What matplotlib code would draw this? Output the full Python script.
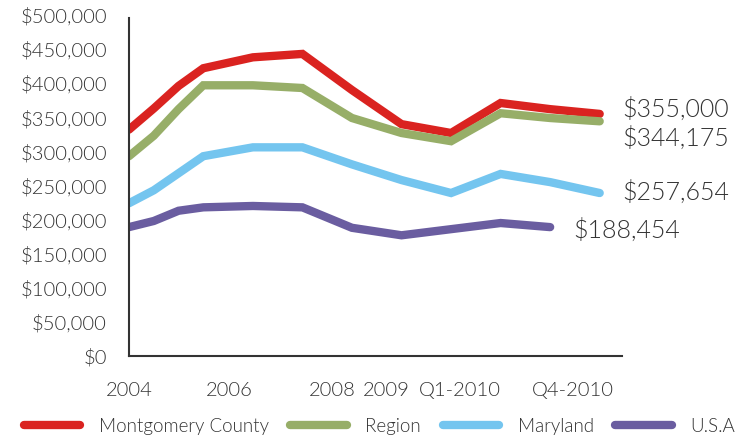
import numpy as np
import matplotlib.pyplot as plt
from matplotlib.ticker import FuncFormatter

# Position of each reading along the time axis
periods = [0, 1, 2, 3, 5, 7, 9, 11, 13, 15, 17, 19]

montgomery = [332000, 363000, 396000, 422000, 438000, 443000, 390000, 340000, 327000, 371000, 362000, 355000]
region = [293000, 323000, 362000, 397000, 397000, 393000, 349000, 327000, 315000, 356000, 349000, 344175]
maryland = [224000, 243000, 268000, 293000, 306000, 306000, 281000, 258000, 239000, 267000, 255000, 239000]
usa = [189000, 198000, 213000, 218000, 220000, 218000, 188000, 177000, 186000, 195000, 189000, np.nan]

series_names = ["Montgomery County", "Region", "Maryland", "U.S.A"]
colors = ["#DA2320", "#97AE68", "#74C5EF", "#6A5DA0"]
end_labels = ["$355,000", "$344,175", "$257,654", "$188,454"]

tick_pos = [0, 4.05, 8.2, 10.4, 13.35, 17.9]
tick_labels = ["2004", "2006", "2008", "2009", "Q1-2010", "Q4-2010"]

plt.rcParams["font.family"] = ["Lato", "DejaVu Sans"]
plt.rcParams["font.weight"] = 300
text_color = "#333333"

fig = plt.figure(figsize=(7.44, 4.36), dpi=100)
ax = fig.add_axes([0.1734, 0.1835, 0.6626, 0.782])

all_series = [montgomery, region, maryland, usa]
handles = []
for vals, name, c in zip(all_series, series_names, colors):
    h, = ax.plot(periods, vals, color=c, lw=6, solid_capstyle="round",
                 solid_joinstyle="miter", label=name)
    handles.append(h)

# value labels at line ends
ax.text(19.9, 361000, end_labels[0], fontsize=18, color=text_color, va="center", clip_on=False)
ax.text(19.9, 318000, end_labels[1], fontsize=18, color=text_color, va="center", clip_on=False)
ax.text(19.9, 240000, end_labels[2], fontsize=18, color=text_color, va="center", clip_on=False)
ax.text(17.95, 184000, end_labels[3], fontsize=18, color=text_color, va="center", clip_on=False)

ax.set_xlim(0, 19.9)
ax.set_ylim(0, 500000)
ax.set_yticks(np.arange(0, 500001, 50000))
ax.yaxis.set_major_formatter(FuncFormatter(lambda v, p: f"${v:,.0f}"))
ax.set_xticks(tick_pos)
ax.set_xticklabels(tick_labels)
ax.tick_params(axis="both", length=0, labelsize=14.5, labelcolor=text_color)
ax.tick_params(axis="y", pad=16)
ax.tick_params(axis="x", pad=19)

for s in ["top", "right"]:
    ax.spines[s].set_visible(False)
for s in ["left", "bottom"]:
    ax.spines[s].set_color("#333333")
    ax.spines[s].set_linewidth(1.5)
ax.spines["left"].set_bounds(0, 495000)

fig.legend(handles=handles, loc="lower left", ncol=4, frameon=False,
           fontsize=13.5, labelcolor=text_color, handlelength=3.0,
           handletextpad=1.0, columnspacing=1.15, borderaxespad=0,
           bbox_to_anchor=(0.022, -0.014))

fig.savefig("out.png", dpi=100)
